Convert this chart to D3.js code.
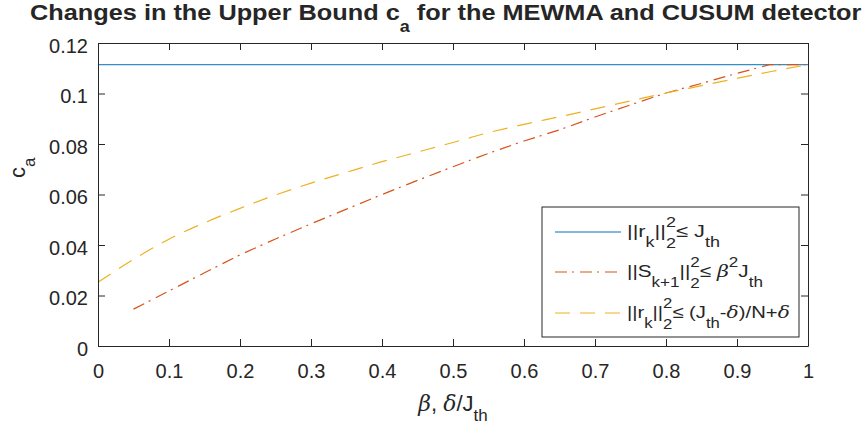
<!DOCTYPE html>
<html>
<head>
<meta charset="utf-8">
<script src="https://cdn.jsdelivr.net/npm/d3@7"></script>
<style>
  body { margin: 0; background: #fff; }
  text { font-family: "Liberation Sans", Arial, sans-serif; fill: #262626; }
</style>
</head>
<body>
<div id="chart"></div>
<script>
// data
const betaY = [0, 0.05, 0.1, 0.15, 0.2, 0.25, 0.3, 0.35, 0.4, 0.45, 0.5, 0.55, 0.6, 0.65, 0.7, 0.75, 0.8, 0.85, 0.9, 0.95, 1]
const caDelta = [0.0252, 0.0343, 0.0423, 0.0488, 0.0545, 0.0598, 0.0645, 0.0688, 0.0730, 0.0768, 0.0806, 0.0845, 0.0878, 0.0908, 0.0939, 0.0971, 0.1002, 0.1031, 0.1060, 0.1088, 0.1114]
const betaR = [0.05, 0.1, 0.15, 0.2, 0.25, 0.3, 0.35, 0.4, 0.45, 0.5, 0.55, 0.6, 0.65, 0.7, 0.75, 0.8, 0.85, 0.9, 0.946, 1]
const caBeta = [0.0146, 0.0218, 0.0290, 0.0361, 0.0424, 0.0484, 0.0542, 0.0600, 0.0656, 0.0710, 0.0763, 0.0812, 0.0856, 0.0907, 0.0955, 0.1002, 0.1040, 0.1080, 0.1114, 0.1114]
const jth = 0.1114
const xTicks = [0, 0.1, 0.2, 0.3, 0.4, 0.5, 0.6, 0.7, 0.8, 0.9, 1]
const yTicks = [0, 0.02, 0.04, 0.06, 0.08, 0.1, 0.12]

const W = 865, H = 429
const margin = {left: 98, right: 57, top: 43, bottom: 83}
const width = W - margin.left - margin.right,
  height = H - margin.top - margin.bottom

const svg = d3.select('#chart').append('svg')
  .attr('width', W).attr('height', H)

const g = svg.append('g')
  .attr('transform', 'translate(' + margin.left + ',' + margin.top + ')')

const x = d3.scaleLinear().domain([0, 1]).range([0, width])
const y = d3.scaleLinear().domain([0, 0.12]).range([height, 0])

const axisCol = '#262626'

// helper for tex-ish text with sub / superscripts
function rich(sel, parts, small) {
  let cur = 0, prevW = 0
  parts.forEach(p => {
    let off = p.k === 'sub' ? small.sub : p.k === 'sup' ? small.sup : 0
    if (p.stack) off += 1
    const ts = sel.append('tspan').attr('dy', off - cur).text(p.t)
    cur = off
    if (p.k) ts.attr('font-size', small.size)
    if (p.stack) ts.attr('dx', -prevW)
    if (p.greek) ts.attr('font-family', 'DejaVu Serif').style('font-style', 'italic').style('font-weight', 'normal')
    prevW = ts.node().getComputedTextLength()
  })
}

// squeeze / stretch text horizontally so it spans the same width as in the picture
function fitX(sel, x0, target) {
  const w = sel.node().getBBox().width
  sel.attr('x', 0).attr('transform', 'translate(' + x0 + ',0) scale(' + (target / w) + ',1)')
}

// lines
const line = d3.line().x(d => x(d[0])).y(d => y(d[1]))

g.append('path')
  .datum([[0, jth], [1, jth]])
  .attr('d', line)
  .attr('fill', 'none')
  .attr('stroke', '#0072BD')
  .attr('stroke-width', 1)

g.append('path')
  .datum(betaR.map((b, i) => [b, caBeta[i]]))
  .attr('d', line)
  .attr('fill', 'none')
  .attr('stroke', '#D95319')
  .attr('stroke-width', 1.2)
  .attr('stroke-dasharray', '12,5,2,6')

g.append('path')
  .datum(betaY.map((b, i) => [b, caDelta[i]]))
  .attr('d', line.curve(d3.curveMonotoneX))
  .attr('fill', 'none')
  .attr('stroke', '#EDB120')
  .attr('stroke-width', 1.2)
  .attr('stroke-dasharray', '15,10')

// axes (box with inward ticks on all sides)
const tl = 7
const xAxis = g.append('g').attr('transform', 'translate(0,' + height + ')')
  .call(d3.axisBottom(x).tickValues(xTicks).tickSizeInner(-tl).tickSizeOuter(0).tickPadding(18).tickFormat(d => d3.format('~g')(d)))
const xTop = g.append('g')
  .call(d3.axisTop(x).tickValues(xTicks).tickSizeInner(-tl).tickSizeOuter(0).tickFormat(''))
const yAxis = g.append('g')
  .call(d3.axisLeft(y).tickValues(yTicks).tickSizeInner(-tl).tickSizeOuter(0).tickPadding(10).tickFormat(d => d3.format('~g')(d)))
const yRight = g.append('g').attr('transform', 'translate(' + width + ',0)')
  .call(d3.axisRight(y).tickValues(yTicks).tickSizeInner(-tl).tickSizeOuter(0).tickFormat(''))

;[xAxis, xTop, yAxis, yRight].forEach(a => {
  a.selectAll('path, line').attr('stroke', axisCol).attr('stroke-width', 1)
  a.selectAll('text').attr('font-size', 20).attr('fill', axisCol)
    .attr('font-family', '"Liberation Sans", Arial, sans-serif')
})
xAxis.selectAll('text').attr('dy', '0.71em')
yAxis.selectAll('text').attr('dy', '0.45em')

// title
const title = svg.append('text')
  .attr('y', 20)
  .attr('font-size', 22.5)
  .attr('font-weight', 'bold')
  .attr('fill', '#000')
rich(title, [
  {t: 'Changes in the Upper Bound c'},
  {t: 'a', k: 'sub'},
  {t: ' for the MEWMA and CUSUM detector'}
], {size: 16, sub: 12, sup: -9})
fitX(title, 30, 832)

// axis labels
const xl = svg.append('text')
  .attr('x', margin.left + width / 2).attr('y', 411)
  .attr('text-anchor', 'middle')
  .attr('font-size', 22)
rich(xl, [
  {t: 'β', greek: true},
  {t: ', '},
  {t: 'δ', greek: true},
  {t: '/J'},
  {t: 'th', k: 'sub'}
], {size: 17, sub: 10, sup: -9})

const yl = svg.append('text')
  .attr('transform', 'translate(25,178) rotate(-90)')
  .attr('font-size', 22)
rich(yl, [
  {t: 'c'},
  {t: 'a', k: 'sub'}
], {size: 17, sub: 10, sup: -9})

// legend
const legend = svg.append('g').attr('transform', 'translate(542,207)')
legend.append('rect')
  .attr('width', 257).attr('height', 130)
  .attr('fill', '#fff')
  .attr('stroke', axisCol)
  .attr('stroke-width', 1)

const legendRows = [
  {col: '#0072BD', dash: null, parts: [
    {t: '||r'}, {t: 'k', k: 'sub'}, {t: '||'}, {t: '2', k: 'sup'}, {t: '2', k: 'sub', stack: true},
    {t: '≤ J'}, {t: 'th', k: 'sub'}]},
  {col: '#D95319', dash: '12,5,2,6', parts: [
    {t: '||S'}, {t: 'k+1', k: 'sub'}, {t: '||'}, {t: '2', k: 'sup'}, {t: '2', k: 'sub', stack: true},
    {t: '≤ '}, {t: 'β', greek: true}, {t: '2', k: 'sup'}, {t: 'J'}, {t: 'th', k: 'sub'}]},
  {col: '#EDB120', dash: '15,10', parts: [
    {t: '||r'}, {t: 'k', k: 'sub'}, {t: '||'}, {t: '2', k: 'sup'}, {t: '2', k: 'sub', stack: true},
    {t: '≤ (J'}, {t: 'th', k: 'sub'}, {t: '-'}, {t: 'δ', greek: true}, {t: ')/N+'}, {t: 'δ', greek: true}]}
]
const rowY = [25, 65, 106]
const rowW = [93, 136, 163]

legendRows.forEach((r, i) => {
  const row = legend.append('g').attr('transform', 'translate(0,' + rowY[i] + ')')
  row.append('line')
    .attr('x1', 13).attr('x2', 79)
    .attr('stroke', r.col)
    .attr('stroke-width', r.dash ? 1.2 : 1)
    .attr('stroke-dasharray', r.dash)
  const t = row.append('text')
    .attr('y', 5)
    .attr('font-size', 17)
  rich(t, r.parts, {size: 14, sub: 10, sup: -10})
  fitX(t, 85, rowW[i])
})
</script>
</body>
</html>
